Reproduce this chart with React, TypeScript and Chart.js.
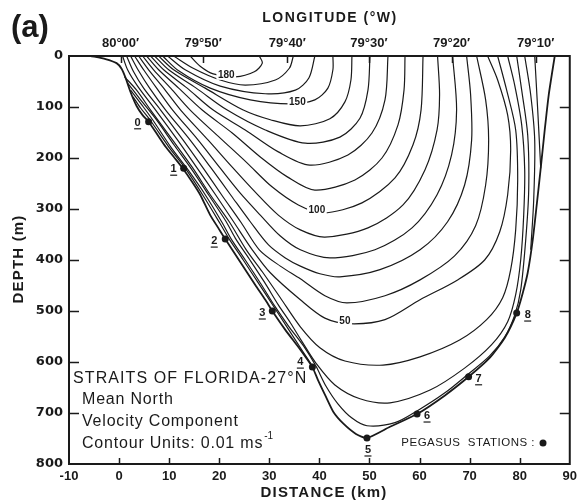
import React, { useEffect, useRef } from "react";
import { Chart, registerables } from "chart.js";

Chart.register(...registerables);

type P = [number, number];

// ---------- axes ----------
const distanceTicks = [-10, 0, 10, 20, 30, 40, 50, 60, 70, 80, 90];
const depthTicks = [0, 100, 200, 300, 400, 500, 600, 700, 800];
const longitudeLabels = ["80°00′", "79°50′", "79°40′", "79°30′", "79°20′", "79°10′"];
const longitudeKm = [0.3, 16.8, 33.6, 49.9, 66.4, 83.2];

// ---------- sea floor (km, m) ----------
const bottomProfile: P[] = [
  [-5.7, 0], [-2.7, 6], [-0.5, 14], [0.5, 25], [1.3, 43], [2.3, 71], [3.5, 98], [4.7, 116], [5.9, 129],
  [7.7, 155], [9.3, 178], [11.1, 200], [12.7, 220], [14.6, 247], [16.2, 272], [18.2, 312], [19.8, 337],
  [21.2, 359], [24.2, 404], [27.2, 449], [29.2, 478], [30.6, 500], [33.2, 537], [36.2, 576], [38.6, 610],
  [39.7, 635], [41.2, 666], [42.8, 698], [44.8, 721], [47.3, 741], [49.5, 749], [54.1, 727], [59.5, 702],
  [65.0, 666], [69.8, 629], [74.0, 592], [77.0, 553], [79.4, 504], [80.6, 465], [81.6, 425], [82.6, 361],
  [83.4, 292], [84.2, 220], [85.0, 145], [85.8, 76], [87.0, 0],
];

// ---------- velocity contours (0.01 m/s) ----------
const contour0: P[] = [[83.0, 0], [83.6, 106], [84.2, 220]];
const contour10Left: P[] = [
  [2.8, 80], [4.3, 102], [6.3, 127], [9.9, 178], [13.2, 220], [16.8, 274], [20.2, 329], [22.0, 359],
  [24.8, 400], [27.8, 445], [31.2, 496], [36.6, 578], [38.6, 608],
];
const contour10Right: P[] = [[82.2, 380], [82.8, 282], [83.0, 165], [82.2, 76], [81.0, 0]];
const contour20: P[] = [
  [2.3, 67], [4.7, 98], [6.7, 125], [10.3, 178], [13.6, 221], [17.2, 272], [20.6, 327], [22.4, 359],
  [25.2, 400], [28.2, 445], [31.2, 492], [33.8, 529], [36.8, 568], [39.3, 608], [41.3, 647], [43.7, 682],
  [46.5, 710], [49.5, 725], [55.1, 719], [59.5, 696], [65.0, 661], [69.8, 623], [74.0, 588], [77.0, 551],
  [79.0, 508], [80.2, 459], [81.2, 361], [81.8, 263], [81.6, 155], [80.4, 67], [79.4, 0],
];
const contour30: P[] = [
  [1.7, 53], [4.3, 86], [7.3, 123], [11.1, 176], [14.4, 221], [18.0, 274], [21.4, 325], [23.2, 357],
  [26.0, 398], [29.0, 443], [31.8, 488], [34.2, 523], [36.6, 561], [39.3, 602], [43.1, 645], [48.1, 672],
  [54.1, 680], [62.1, 655], [69.0, 612], [74.4, 566], [77.6, 521], [79.2, 468], [80.2, 400], [80.8, 312],
  [81.0, 223], [80.4, 135], [79.0, 57], [77.6, 0],
];
const contour40: P[] = [
  [1.1, 41], [3.5, 67], [6.3, 106], [10.7, 165], [14.6, 218], [18.2, 272], [22.0, 325], [25.4, 380],
  [28.6, 423], [32.2, 474], [36.2, 531], [40.1, 572], [45.1, 598], [52.7, 606], [60.1, 590], [68.0, 557],
  [73.4, 517], [76.6, 474], [78.2, 419], [79.2, 341], [79.6, 243], [79.2, 145], [77.4, 67], [75.6, 0],
];
const contour50: P[] = [
  [0.7, 0], [1.7, 27], [3.7, 59], [7.3, 106], [11.7, 165], [15.6, 220], [19.4, 274], [23.0, 327],
  [26.6, 380], [30.2, 425], [36.2, 478], [41.1, 514], [46.1, 525], [53.1, 517], [60.1, 478], [67.6, 439],
  [73.0, 400], [76.0, 345], [77.6, 272], [78.2, 184], [77.6, 116], [75.6, 47], [73.6, 0],
];
const contour60: P[] = [
  [1.5, 0], [2.9, 31], [4.9, 63], [8.3, 106], [12.8, 165], [16.8, 220], [20.6, 274], [24.4, 327],
  [28.0, 380], [32.2, 412], [36.2, 437], [41.1, 470], [45.5, 484], [53.1, 470], [60.1, 439], [67.0, 392],
  [71.2, 333], [73.2, 253], [73.8, 165], [73.2, 86], [71.4, 0],
];
const contour70: P[] = [
  [2.3, 0], [3.9, 29], [6.1, 63], [9.3, 106], [14.2, 165], [18.4, 220], [22.4, 274], [26.2, 325],
  [29.8, 370], [33.2, 396], [36.2, 412], [40.1, 427], [44.1, 433], [52.1, 419], [60.1, 380], [65.6, 325],
  [69.0, 253], [70.4, 165], [70.2, 76], [69.4, 0],
];
const contour80: P[] = [
  [3.1, 0], [4.9, 27], [7.5, 63], [10.7, 106], [15.8, 165], [20.2, 220], [24.2, 269], [28.2, 312],
  [32.2, 353], [36.2, 380], [42.1, 396], [51.1, 380], [58.5, 337], [63.5, 272], [66.4, 194], [67.4, 106],
  [66.6, 0],
];
const contour90: P[] = [
  [3.9, 0], [5.9, 27], [8.9, 63], [12.3, 106], [17.8, 165], [22.6, 218], [27.2, 267], [31.8, 312],
  [36.2, 341], [41.1, 355], [49.7, 337], [56.7, 292], [61.1, 223], [63.5, 145], [64.0, 76], [63.6, 0],
];
const contour100: P[] = [
  [4.7, 0], [6.9, 27], [10.3, 63], [14.2, 106], [20.2, 161], [25.6, 210], [30.6, 257], [35.8, 292],
  [40.7, 308], [48.5, 288], [55.1, 239], [58.7, 174], [60.3, 106], [60.7, 0],
];
const contour110: P[] = [
  [5.5, 0], [7.9, 27], [11.9, 63], [16.6, 106], [22.6, 151], [28.2, 198], [33.6, 237], [39.1, 263],
  [47.1, 243], [52.5, 200], [55.7, 135], [56.9, 67], [57.1, 0],
];
const contour120: P[] = [
  [6.3, 0], [8.9, 27], [13.6, 63], [18.8, 106], [25.2, 145], [31.8, 188], [38.1, 214], [45.7, 194],
  [50.5, 151], [53.1, 86], [53.7, 0],
];
const contour130: P[] = [
  [7.1, 0], [9.9, 27], [15.4, 63], [21.6, 106], [29.2, 145], [37.2, 171], [44.1, 159], [48.1, 122],
  [49.7, 67], [50.1, 0],
];
const contour140: P[] = [
  [7.9, 0], [10.9, 27], [17.2, 63], [24.8, 106], [30.2, 125], [36.2, 137], [42.1, 123], [45.1, 90],
  [46.3, 47], [46.5, 0],
];
const contour150: P[] = [
  [8.7, 0], [11.9, 29], [18.2, 63], [26.2, 86], [34.2, 94], [39.1, 86], [41.7, 63], [42.7, 27], [42.7, 0],
];
const contour160: P[] = [[9.7, 0], [13.2, 27], [20.2, 59], [29.2, 74], [35.2, 67], [37.9, 43], [39.1, 0]];
const contour170: P[] = [[10.9, 0], [14.8, 24], [20.2, 47], [25.2, 57], [31.2, 47], [34.0, 24], [34.8, 0]];
const contour180: P[] = [[14.2, 0], [16.2, 20], [18.8, 35], [23.2, 41], [27.0, 31], [28.6, 14], [28.0, 0]];

const contourLines: P[][] = [
  contour0, contour10Left, contour10Right, contour20, contour30, contour40, contour50, contour60,
  contour70, contour80, contour90, contour100, contour110, contour120, contour130, contour140,
  contour150, contour160, contour170, contour180,
];

const contourLabelText = ["180", "150", "100", "50"];
const contourLabelKm = [21.4, 35.6, 39.5, 45.1];
const contourLabelDepth = [37, 90, 302, 521];

// ---------- Pegasus stations ----------
const stationIds = ["0", "1", "2", "3", "4", "5", "6", "7", "8"];
const stationKm = [5.9, 12.9, 21.2, 30.6, 38.6, 49.5, 59.5, 69.8, 79.4];
const stationDepth = [129, 220, 359, 500, 610, 749, 702, 629, 504];
const stationLabelOffset: P[] = [
  [-11, 1], [-10, 1], [-11, 2], [-10, 2], [-12, -5], [1, 12], [10, 2], [10, 2], [11, 2],
];

const INK = "#1a1a1a";
const toXY = (pts: P[]) => pts.map(([x, y]) => ({ x, y }));

const overlay = {
  id: "overlay",
  afterDatasetsDraw(chart: any) {
    const { ctx, chartArea: a, scales } = chart;
    const sx = scales.x;
    const sy = scales.y;
    ctx.save();
    ctx.fillStyle = INK;
    ctx.strokeStyle = INK;

    // frame
    ctx.lineWidth = 2;
    ctx.strokeRect(a.left, a.top, a.right - a.left, a.bottom - a.top);

    // inward ticks
    ctx.lineWidth = 1.5;
    ctx.beginPath();
    distanceTicks.forEach((v) => {
      if (v <= sx.min || v >= sx.max) return;
      const px = Math.round(sx.getPixelForValue(v)) + 0.5;
      ctx.moveTo(px, a.bottom);
      ctx.lineTo(px, a.bottom - 6);
    });
    longitudeKm.forEach((v) => {
      const px = Math.round(sx.getPixelForValue(v)) + 0.5;
      ctx.moveTo(px, a.top);
      ctx.lineTo(px, a.top + 7);
    });
    depthTicks.forEach((v) => {
      if (v <= sy.min || v >= sy.max) return;
      const py = Math.round(sy.getPixelForValue(v)) + 0.5;
      ctx.moveTo(a.left, py);
      ctx.lineTo(a.left + 10, py);
      ctx.moveTo(a.right, py);
      ctx.lineTo(a.right - 10, py);
    });
    ctx.stroke();

    const text = (s: string, x: number, y: number, font: string, align: CanvasTextAlign = "left", spacing = 0) => {
      ctx.font = font;
      ctx.textAlign = align;
      ctx.textBaseline = "middle";
      (ctx as any).letterSpacing = spacing + "px";
      ctx.fillText(s, x, y);
      (ctx as any).letterSpacing = "0px";
    };

    // contour value labels
    contourLabelText.forEach((s, i) => {
      const px = sx.getPixelForValue(contourLabelKm[i]);
      const py = sy.getPixelForValue(contourLabelDepth[i]);
      ctx.font = "bold 10px 'Liberation Sans', Arial, sans-serif";
      const w = ctx.measureText(s).width;
      ctx.fillStyle = "#ffffff";
      ctx.fillRect(px - w / 2 - 1.5, py - 5, w + 3, 10);
      ctx.fillStyle = INK;
      text(s, px, py, "bold 10px 'Liberation Sans', Arial, sans-serif", "center");
    });

    // station labels (underlined)
    stationIds.forEach((s, i) => {
      const px = sx.getPixelForValue(stationKm[i]) + stationLabelOffset[i][0];
      const py = sy.getPixelForValue(stationDepth[i]) + stationLabelOffset[i][1];
      text(s, px, py, "bold 11px 'Liberation Sans', Arial, sans-serif", "center");
      ctx.lineWidth = 1.2;
      ctx.beginPath();
      ctx.moveTo(px - 3.5, py + 6);
      ctx.lineTo(px + 3.5, py + 6);
      ctx.stroke();
    });

    // titles
    ctx.font = "bold 31px 'Liberation Sans', Arial, sans-serif";
    ctx.textAlign = "left";
    ctx.textBaseline = "alphabetic";
    ctx.fillText("(a)", 11, 37);

    text("LONGITUDE (°W)", 330, 18, "bold 14px 'Liberation Sans', Arial, sans-serif", "center", 1.5);
    text("DISTANCE (km)", 324, 493, "bold 15px 'Liberation Sans', Arial, sans-serif", "center", 1.2);

    ctx.save();
    ctx.translate(19, 259);
    ctx.rotate(-Math.PI / 2);
    text("DEPTH (m)", 0, 0, "bold 15px 'Liberation Sans', Arial, sans-serif", "center", 1.2);
    ctx.restore();

    // annotation block
    const f16 = "16px 'Liberation Sans', Arial, sans-serif";
    text("STRAITS OF FLORIDA-27°N", 73, 379, f16, "left", 1.1);
    text("Mean North", 82, 400, f16, "left", 0.8);
    text("Velocity Component", 82, 422, f16, "left", 0.8);
    text("Contour Units: 0.01 ms", 82, 444, f16, "left", 0.8);
    ctx.font = f16;
    (ctx as any).letterSpacing = "0.8px";
    const cw = ctx.measureText("Contour Units: 0.01 ms").width;
    (ctx as any).letterSpacing = "0px";
    text("-1", 82 + cw + 1, 436, "10px 'Liberation Sans', Arial, sans-serif", "left");

    text("PEGASUS  STATIONS :", 535, 443, "11.5px 'Liberation Sans', Arial, sans-serif", "right", 0.5);
    ctx.beginPath();
    ctx.arc(543, 443, 3.5, 0, Math.PI * 2);
    ctx.fill();

    ctx.restore();
  },
};

export default function App() {
  const ref = useRef<HTMLCanvasElement | null>(null);

  useEffect(() => {
    if (!ref.current) return;
    const datasets: any[] = [
      {
        data: toXY(bottomProfile),
        showLine: true,
        borderColor: INK,
        borderWidth: 1.8,
        pointRadius: 0,
        tension: 0.2,
      },
      ...contourLines.map((pts) => ({
        data: toXY(pts),
        showLine: true,
        borderColor: INK,
        borderWidth: 1.2,
        pointRadius: 0,
        tension: 0.3,
      })),
      {
        data: stationKm.map((x, i) => ({ x, y: stationDepth[i] })),
        showLine: false,
        pointRadius: 3.5,
        pointBackgroundColor: INK,
        pointBorderWidth: 0,
      },
    ];

    const tickFont = { family: "'Liberation Sans', Arial, sans-serif", size: 13, weight: "bold" as const };

    const chart = new Chart(ref.current, {
      type: "scatter",
      data: { datasets },
      options: {
        animation: false,
        responsive: false,
        devicePixelRatio: 1,
        layout: { padding: 0 },
        plugins: { legend: { display: false }, tooltip: { enabled: false } },
        scales: {
          x: {
            type: "linear",
            position: "bottom",
            min: -10,
            max: 90,
            afterBuildTicks: (s: any) => {
              s.ticks = distanceTicks.map((v) => ({ value: v }));
            },
            ticks: { font: tickFont, color: INK, padding: 5, autoSkip: false, maxRotation: 0 },
            grid: { display: false, drawTicks: false },
            border: { display: false },
            afterFit: (s: any) => {
              s.height = 40;
            },
          },
          x2: {
            type: "linear",
            position: "top",
            min: -10,
            max: 90,
            afterBuildTicks: (s: any) => {
              s.ticks = longitudeKm.map((v) => ({ value: v }));
            },
            ticks: {
              font: tickFont,
              color: INK,
              padding: 5,
              autoSkip: false,
              maxRotation: 0,
              callback: (_v: any, i: number) => longitudeLabels[i],
            },
            grid: { display: false, drawTicks: false },
            border: { display: false },
            afterFit: (s: any) => {
              s.height = 56;
            },
          },
          y: {
            type: "linear",
            position: "left",
            min: 0,
            max: 800,
            reverse: true,
            afterBuildTicks: (s: any) => {
              s.ticks = depthTicks.map((v) => ({ value: v }));
            },
            ticks: {
              font: { family: "'DejaVu Sans', sans-serif", size: 13, weight: "bold" as const },
              color: INK,
              padding: 6,
            },
            grid: { display: false, drawTicks: false },
            border: { display: false },
            afterFit: (s: any) => {
              s.width = 69;
            },
          },
          y2: {
            type: "linear",
            position: "right",
            min: 0,
            max: 800,
            reverse: true,
            ticks: { display: false },
            grid: { display: false, drawTicks: false },
            border: { display: false },
            afterFit: (s: any) => {
              s.width = 11;
            },
          },
        },
      } as any,
      plugins: [overlay],
    });
    return () => chart.destroy();
  }, []);

  return (
    <div style={{ position: "fixed", left: 0, top: 0, width: 582, height: 504, background: "#fff" }}>
      <canvas ref={ref} width={582} height={504} style={{ display: "block" }} />
    </div>
  );
}
